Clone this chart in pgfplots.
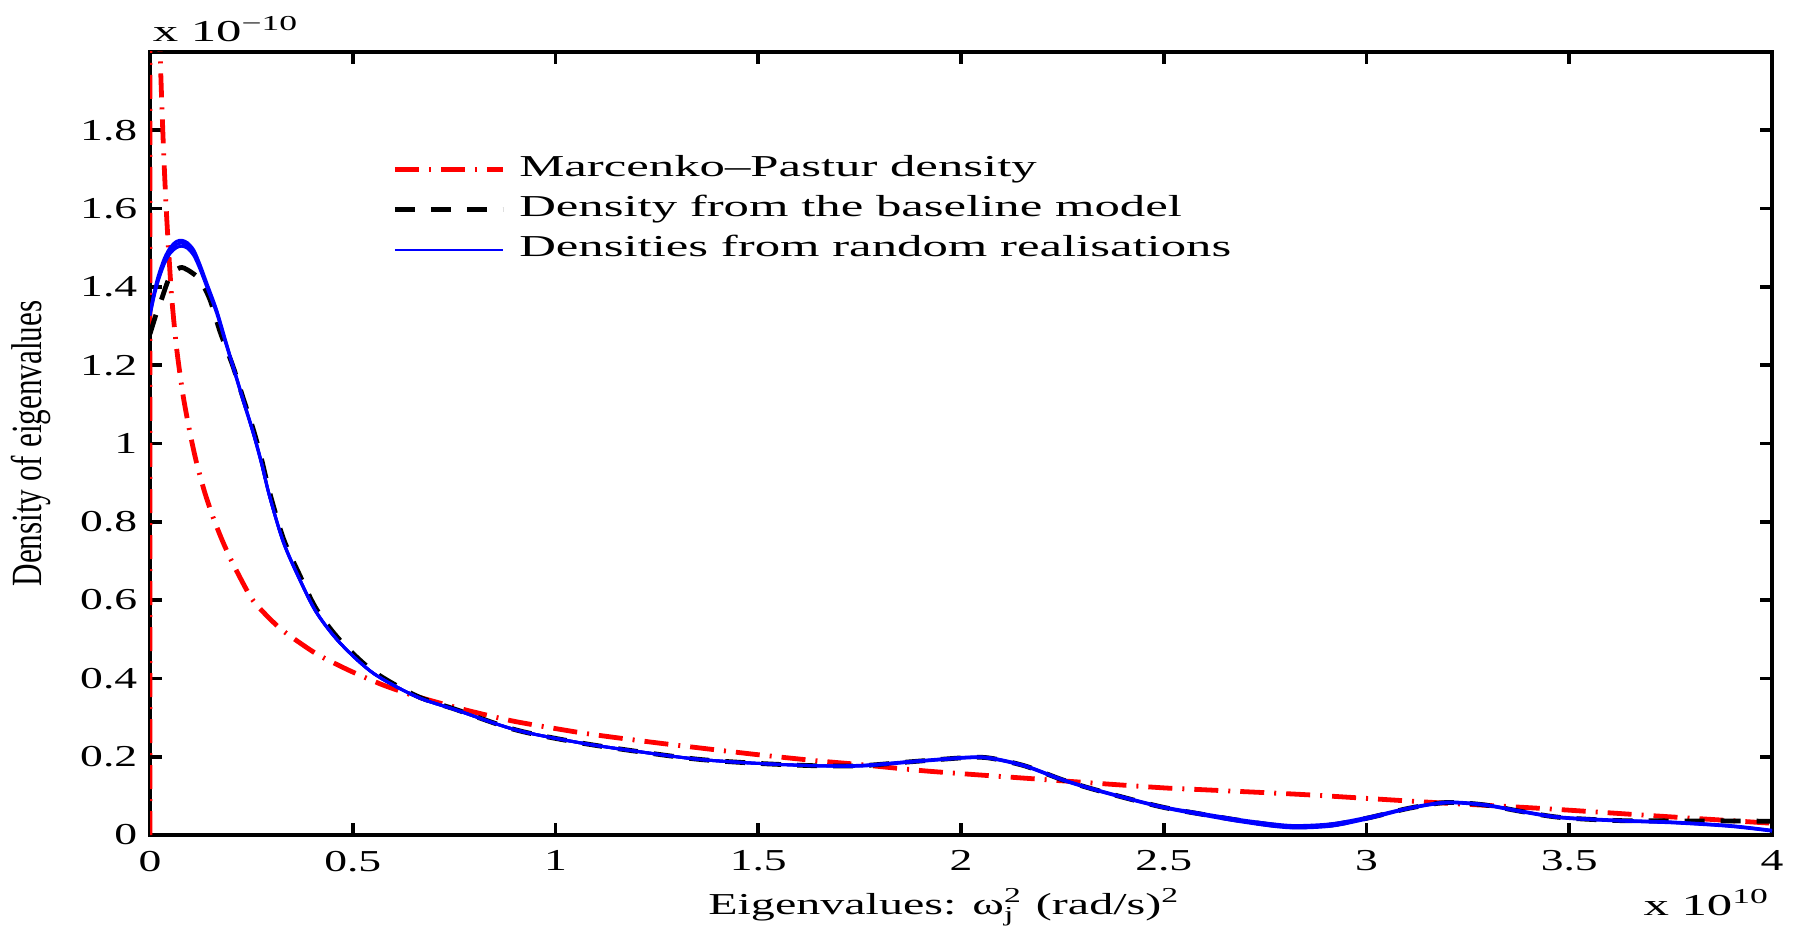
\documentclass[border=0pt]{standalone}
\usepackage{fontspec}
\setmainfont{Liberation Serif}
\usepackage{graphicx}
\usepackage{pgfplots}
\usepackage{pgfplotstable}
\pgfplotsset{compat=1.18}
\newcommand{\sx}[1]{\scalebox{1.67}[1]{#1}}
\newcommand{\tx}[1]{\scalebox{1.5}[1]{#1}}

\pgfplotstableread{
x y
0.004 5.0
0.008 3.54
0.012 2.89
0.018 2.36
0.025 2.0
0.033 1.76
0.041 1.58
0.053 1.38
0.066 1.24
0.082 1.12
0.1 1.02
0.115 0.95
0.135 0.875
0.156 0.81
0.18 0.748
0.205 0.692
0.25 0.605
0.29 0.558
0.33 0.52
0.41 0.463
0.49 0.421
0.575 0.383
0.66 0.353
0.78 0.319
0.9 0.290
1.07 0.260
1.23 0.238
1.375 0.220
1.5 0.205
1.64 0.19
1.75 0.18
1.92 0.163
2.2 0.142
2.49 0.121
2.59 0.116
2.85 0.103
3.15 0.084
3.43 0.068
3.71 0.049
4.0 0.030
}\mptable

\pgfplotstableread{
x y
0 1.28
0.015 1.33
0.029 1.37
0.049 1.426
0.074 1.449
0.095 1.442
0.123 1.418
0.148 1.367
0.173 1.285
0.205 1.196
0.23 1.115
0.255 1.035
0.275 0.96
0.295 0.875
0.329 0.757
0.37 0.662
0.411 0.576
0.469 0.497
0.551 0.418
0.658 0.355
0.756 0.320
0.904 0.268
1.069 0.234
1.233 0.209
1.356 0.193
1.498 0.183
1.64 0.177
1.753 0.177
1.875 0.187
2.017 0.198
2.074 0.196
2.159 0.176
2.253 0.140
2.347 0.111
2.489 0.073
2.589 0.054
2.683 0.038
2.772 0.025
2.83 0.021
2.916 0.026
3.010 0.045
3.103 0.068
3.197 0.083
3.290 0.077
3.383 0.060
3.477 0.045
3.617 0.037
3.757 0.036
3.897 0.036
4.0 0.035
}\basetable

\pgfplotstableread{
x b1 b2 b3
0 1.33 1.334 1.326
0.01 1.38 1.385 1.375
0.02 1.42 1.427 1.414
0.035 1.465 1.472 1.458
0.05 1.493 1.501 1.486
0.065 1.508 1.516 1.500
0.078 1.512 1.519 1.504
0.092 1.506 1.513 1.499
0.108 1.487 1.494 1.480
0.123 1.452 1.458 1.446
0.14 1.405 1.410 1.400
0.164 1.338 1.342 1.334
0.185 1.265 1.268 1.262
0.205 1.196 1.198 1.194
0.23 1.11 1.112 1.108
0.255 1.026 1.028 1.024
0.275 0.95 0.952 0.948
0.295 0.865 0.866 0.864
0.329 0.748 0.749 0.747
0.37 0.651 0.652 0.650
0.411 0.568 0.568 0.567
0.469 0.490 0.490 0.490
0.551 0.413 0.413 0.413
0.658 0.353 0.353 0.353
0.756 0.319 0.319 0.319
0.904 0.268 0.268 0.268
1.069 0.234 0.234 0.234
1.233 0.209 0.209 0.209
1.356 0.193 0.193 0.193
1.498 0.183 0.183 0.183
1.64 0.177 0.177 0.177
1.753 0.177 0.176 0.178
1.875 0.187 0.186 0.188
2.017 0.198 0.197 0.199
2.074 0.196 0.195 0.197
2.159 0.176 0.175 0.177
2.253 0.140 0.139 0.141
2.347 0.111 0.110 0.112
2.489 0.073 0.072 0.074
2.589 0.054 0.052 0.056
2.683 0.038 0.035 0.040
2.772 0.025 0.022 0.028
2.83 0.021 0.018 0.024
2.916 0.026 0.023 0.029
3.010 0.045 0.043 0.047
3.103 0.068 0.067 0.069
3.197 0.083 0.082 0.084
3.290 0.077 0.076 0.078
3.383 0.060 0.059 0.061
3.477 0.045 0.044 0.046
3.617 0.037 0.036 0.038
3.757 0.032 0.031 0.033
3.897 0.023 0.022 0.024
4.0 0.011 0.010 0.012
}\realtable

\begin{document}
\begin{tikzpicture}[font=\fontsize{7.6}{9}\selectfont]
\useasboundingbox (-37.5pt,-24.25pt) rectangle (411pt,208.75pt);
\begin{axis}[
  at={(0,0)}, anchor=south west,
  scale only axis, width=405.5pt, height=195.75pt,
  xmin=0, xmax=4, ymin=0, ymax=2,
  clip mode=individual,
  scaled ticks=false,
  xtick={0,0.5,1,1.5,2,2.5,3,3.5,4},
  xticklabels={\tx{0},\tx{0.5},\tx{1},\tx{1.5},\tx{2},\tx{2.5},\tx{3},\tx{3.5},\tx{4}},
  ytick={0,0.2,0.4,0.6,0.8,1,1.2,1.4,1.6,1.8},
  yticklabels={\tx{0},\tx{0.2},\tx{0.4},\tx{0.6},\tx{0.8},\tx{1},\tx{1.2},\tx{1.4},\tx{1.6},\tx{1.8}},
  tick align=inside, major tick length=3pt,
  axis line style={line width=0.9pt},
  tick style={line width=0.9pt, black},
  xticklabel style={inner sep=0pt, yshift=-3.75pt, anchor=north},
  yticklabel style={inner sep=0pt, xshift=-3pt, anchor=east},
  xlabel={\scalebox{1.58}[1]{Eigenvalues: ω\rlap{\raisebox{-0.8pt}{\textsubscript{j}}}\textsuperscript{2} (rad/s)\textsuperscript{2}}},
  every axis x label/.style={at={(axis description cs:0.49,-0.1009)}, anchor=base, inner sep=0pt},
  ylabel={\scalebox{1}[1.38]{Density of eigenvalues}},
  every axis y label/.style={at={(axis description cs:-0.0735,0.5)}, anchor=center, rotate=90, inner sep=0pt, font=\fontsize{7.8}{9}\selectfont},
  legend style={draw=none, fill=none, at={(axis description cs:0.149,0.8685)}, anchor=north west,
    inner sep=0pt, row sep=3pt, nodes={inner sep=0pt, text height=5.2pt, text depth=1.8pt},
    /tikz/every odd column/.append style={column sep=3.5pt}},
  legend cell align=left,
  legend image code/.code={\draw[#1] (0pt,0pt) -- (27pt,0pt);},
]
\addplot[red, line width=1.2pt, dash pattern=on 6pt off 2.5pt on 0.5pt off 2.5pt, smooth, tension=0.4] table[x=x,y=y] {\mptable};
\addlegendentry{\sx{Marcenko–Pastur density}}
\addplot[red, line width=1.2pt, dash pattern=on 6pt off 2.5pt on 0.5pt off 2.5pt, forget plot] coordinates {(0,0) (0,2) (0.004,5.0)};
\addplot[black, line width=1.2pt, dash pattern=on 5pt off 4pt, smooth, tension=0.5] table[x=x,y=y] {\basetable};
\addlegendentry{\sx{Density from the baseline model}}
\addplot[blue, line width=0.75pt, smooth, tension=0.5, forget plot] table[x=x,y=b1] {\realtable};
\addplot[blue, line width=0.75pt, smooth, tension=0.5, forget plot] table[x=x,y=b2] {\realtable};
\addplot[blue, line width=0.75pt, smooth, tension=0.5, forget plot] table[x=x,y=b3] {\realtable};
\addlegendimage{blue, line width=0.4pt}
\addlegendentry{\sx{Densities from random realisations}}
\node[anchor=base west, inner sep=0pt] at ([xshift=0.5pt, yshift=2.5pt]axis description cs:0,1) {\sx{x 10\textsuperscript{−10}}};
\node[anchor=base east, inner sep=0pt] at ([yshift=-20pt]axis description cs:1,0) {\sx{x 10\textsuperscript{10}}};
\end{axis}
\end{tikzpicture}
\end{document}
